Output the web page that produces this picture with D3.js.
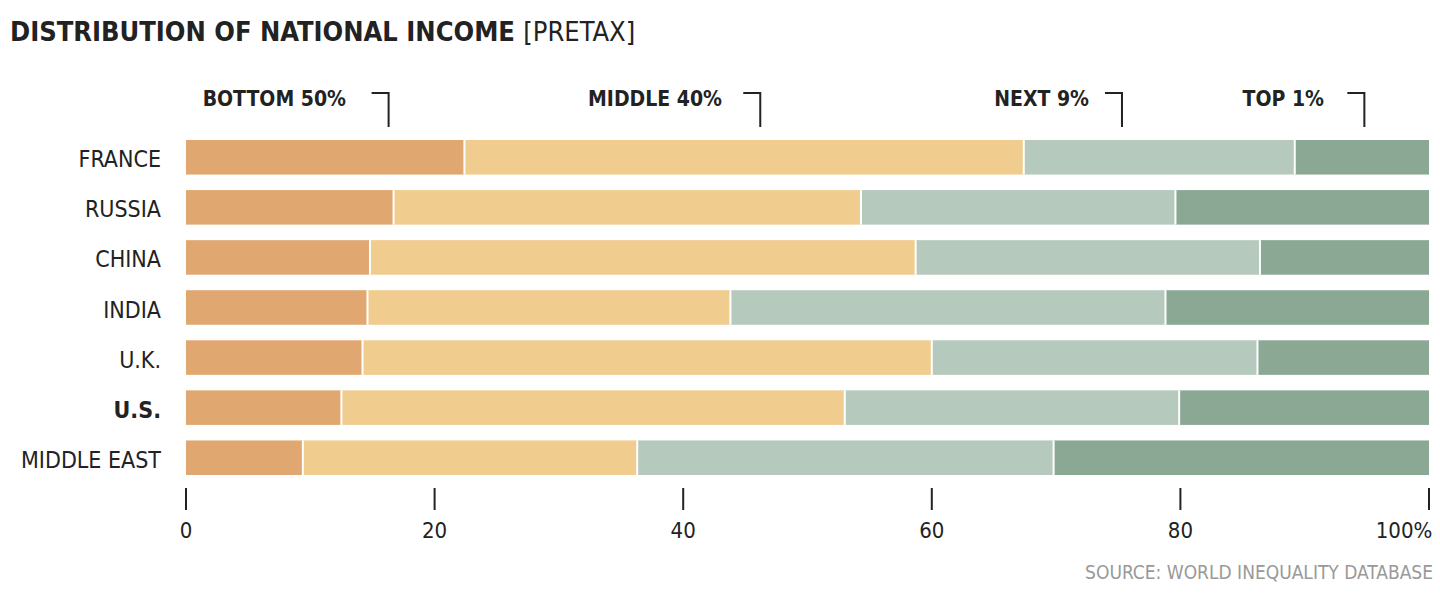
<!DOCTYPE html><html><head><meta charset="utf-8">
<script src="https://cdn.jsdelivr.net/npm/d3@7"></script>
<style>body{margin:0;background:#fff}text{font-family:"DejaVu Sans Condensed","Roboto",sans-serif}</style></head><body>
<svg id="c" width="1440" height="599"></svg>
<script>
const countries=["FRANCE","RUSSIA","CHINA","INDIA","U.K.","U.S.","MIDDLE EAST"];
const groups=["BOTTOM 50%","MIDDLE 40%","NEXT 9%","TOP 1%"];
const bottom50=[22.4,16.7,14.8,14.6,14.2,12.5,9.4];
const middle40=[45.0,37.6,43.9,29.2,45.8,40.5,26.9];
const next9=[21.8,25.3,27.7,35.0,26.2,26.9,33.5];
const top1=[10.8,20.4,13.6,21.2,13.8,20.1,30.2];
const ticks=[0,20,40,60,80,100];
const colors=["#e0a870","#f0cc8e","#b5c9bc","#8aa894"];
const bracketX=[16.3,46.2,75.3,94.8];
const labelEnd=[346,722,1089,1324];

const svg=d3.select("#c");
const x=d3.scaleLinear().domain([0,100]).range([186,1429]);
const y=d3.scaleBand().domain(countries).range([135,480]).paddingInner(0.31).paddingOuter(0.1);
const series=[bottom50,middle40,next9,top1];
svg.append("text").attr("x",10).attr("y",41).attr("font-size",27).attr("font-weight","bold").attr("fill","#222")
 .text("DISTRIBUTION OF NATIONAL INCOME ").append("tspan").attr("font-weight","normal").text("[PRETAX]");
countries.forEach((c,i)=>{
  let acc=0;
  series.forEach((s,j)=>{
    svg.append("rect").attr("x",x(acc)).attr("y",y(c)).attr("width",x(acc+s[i])-x(acc)).attr("height",y.bandwidth()).attr("fill",colors[j]);
    acc+=s[i];
  });
  let a2=0;
  series.slice(0,3).forEach(s=>{a2+=s[i];svg.append("line").attr("x1",x(a2)).attr("x2",x(a2)).attr("y1",y(c)).attr("y2",y(c)+y.bandwidth()).attr("stroke","#fff").attr("stroke-width",2);});
  svg.append("text").attr("x",161).attr("y",y(c)+y.bandwidth()/2+10).attr("text-anchor","end").attr("font-size",23)
   .attr("font-weight",c==="U.S."?"bold":"normal").attr("fill","#222").text(c);
});
groups.forEach((g,i)=>{
  svg.append("text").attr("x",labelEnd[i]).attr("y",106).attr("text-anchor","end").attr("font-size",21).attr("font-weight","bold").attr("fill","#222").text(g);
  const bx=x(bracketX[i]);
  svg.append("path").attr("d",`M${bx-17},93H${bx}V127`).attr("fill","none").attr("stroke","#222").attr("stroke-width",2);
});
const ax=svg.append("g").attr("transform","translate(0,488)");
ticks.forEach(t=>{
  ax.append("line").attr("x1",x(t)).attr("x2",x(t)).attr("y1",0).attr("y2",22).attr("stroke","#222").attr("stroke-width",2);
  ax.append("text").attr("x",x(t)+(t===100?-25:0)).attr("y",50).attr("text-anchor","middle").attr("font-size",22).attr("fill","#222").text(t===100?"100%":t);
});
svg.append("text").attr("x",1433).attr("y",579).attr("text-anchor","end").attr("font-size",19).attr("fill","#999").text("SOURCE: WORLD INEQUALITY DATABASE");
</script></body></html>
